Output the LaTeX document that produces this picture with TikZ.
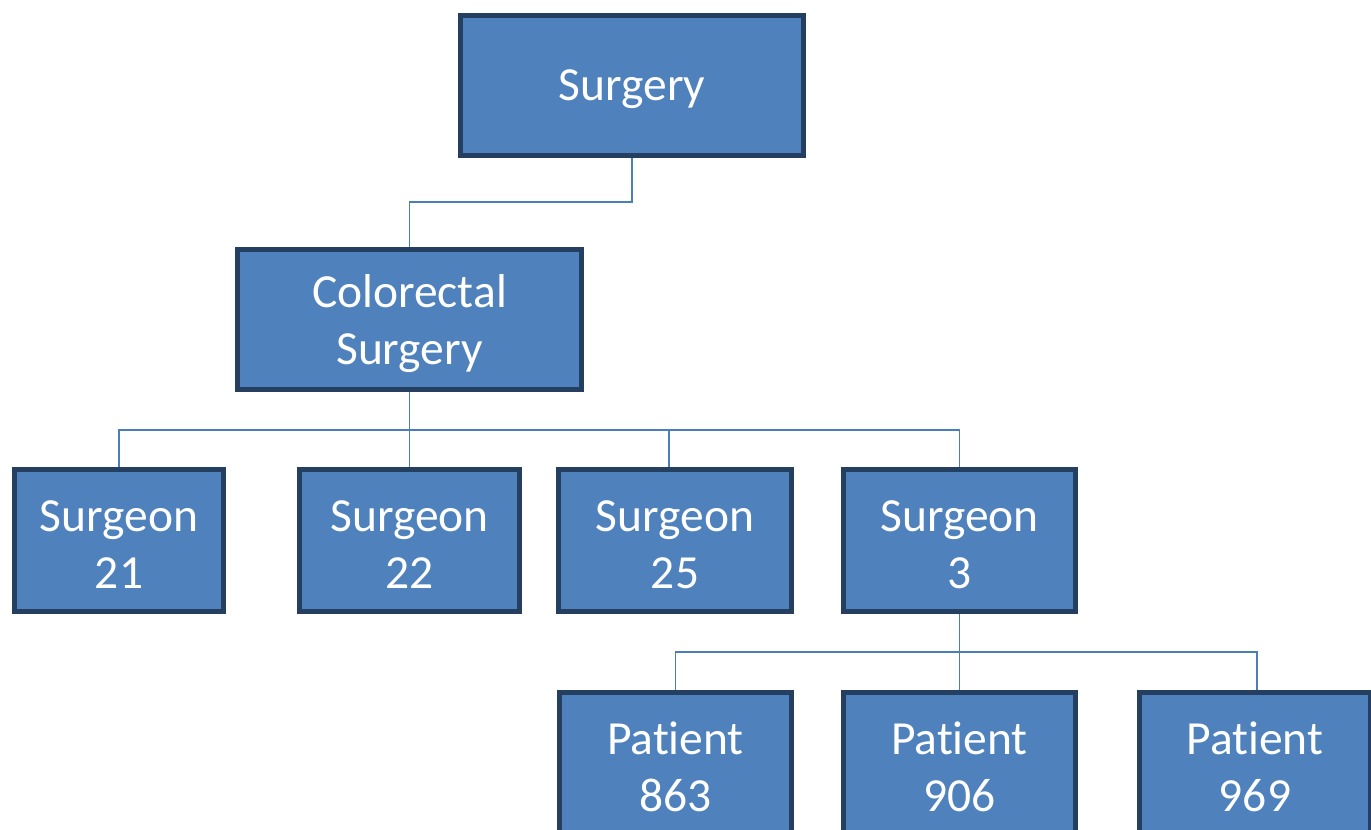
\documentclass[tikz,border=0pt]{standalone}
\usepackage{fontspec}
\setmainfont[RawFeature={-liga;-clig;-calt;-dlig}]{Carlito}
\definecolor{boxfill}{HTML}{4F81BD}
\definecolor{boxline}{HTML}{243F60}
\definecolor{linkline}{HTML}{4A7EBB}
\begin{document}
\begin{tikzpicture}[x=1pt,y=-1pt,
  orgbox/.style={draw=boxline, line width=4.8pt, fill=boxfill, inner sep=0pt},
  boxtext/.style={text=white, align=center, inner sep=0pt, yshift=-4pt,
    font=\fontsize{47.5}{57}\selectfont},
  link/.style={draw=linkline, line width=1.8pt}]
\useasboundingbox (0,0) rectangle (1371,830);

% top level
\node[orgbox, minimum width=343.5pt, minimum height=140.5pt,
  label={[boxtext]center:Surgery}] (surgery) at (632,85.5) {};
\node[orgbox, minimum width=344.5pt, minimum height=140.5pt,
  label={[boxtext]center:{Colorectal\\Surgery}}] (colo) at (409.5,319.5) {};

% surgeons
\node[orgbox, minimum width=209.5pt, minimum height=142.5pt,
  label={[boxtext]center:{Surgeon\\21}}] (s21) at (119,540.5) {};
\node[orgbox, minimum width=220.5pt, minimum height=142.5pt,
  label={[boxtext]center:{Surgeon\\22}}] (s22) at (409.5,540.5) {};
\node[orgbox, minimum width=233.5pt, minimum height=142.5pt,
  label={[boxtext]center:{Surgeon\\25}}] (s25) at (675,540.5) {};
\node[orgbox, minimum width=232.5pt, minimum height=142.5pt,
  label={[boxtext]center:{Surgeon\\3}}] (s3) at (959.5,540.5) {};

% patients of surgeon 3
\node[orgbox, minimum width=232.5pt, minimum height=140.5pt,
  label={[boxtext]center:{Patient\\863}}] (p863) at (675.5,762.5) {};
\node[orgbox, minimum width=232.5pt, minimum height=140.5pt,
  label={[boxtext]center:{Patient\\906}}] (p906) at (959.5,762.5) {};
\node[orgbox, minimum width=231.5pt, minimum height=140.5pt,
  label={[boxtext]center:{Patient\\969}}] (p969) at (1255,762.5) {};

% connectors
\coordinate (b1) at (632,202);
\coordinate (b2) at (409.5,430);
\coordinate (b3) at (959.5,652);

\draw[link] (surgery.south) -- (b1) -| (colo.north);

\draw[link] (colo.south) -- (colo.south |- s22.north);
\draw[link] (s21.north) -- (s21.north |- b2) -- (b2 -| s3.north) -- (s3.north);
\draw[link] (669,430) -- (669,0 |- s25.north);

\draw[link] (s3.south) -- (s3.south |- p906.north);
\draw[link] (p863.north) -- (p863.north |- b3) -- (1257,652) -- (1257,0 |- p969.north);
\end{tikzpicture}
\end{document}
